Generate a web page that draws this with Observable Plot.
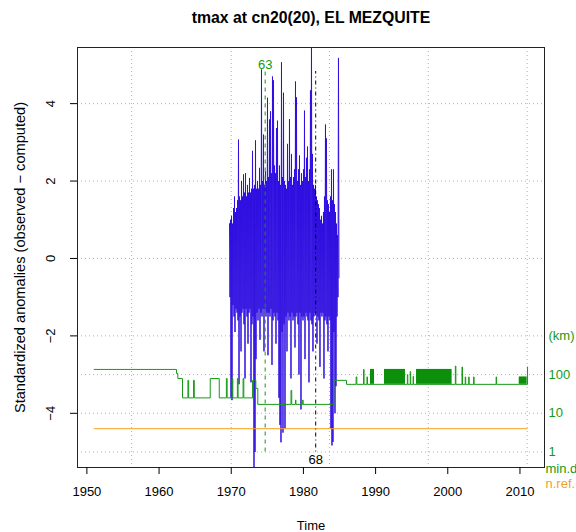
<!DOCTYPE html>
<html><head><meta charset="utf-8">
<script src="https://cdn.jsdelivr.net/npm/d3@7"></script>
<script src="https://cdn.jsdelivr.net/npm/@observablehq/plot@0.6"></script>
<style>body{margin:0;background:#fff;font-family:"Liberation Sans",Arial,Helvetica,sans-serif}</style>
</head><body><div id="chart"></div>
<script>
// ---- data ----
const titleText = "tmax at cn20(20), EL MEZQUITE";
const xTicks = [1950, 1960, 1970, 1980, 1990, 2000, 2010];
const yTicks = [-4, -2, 0, 2, 4];
const gridYears = [1956.2, 1970, 1983.6, 1997.3, 2011];
const gridVals = [4, 2, 0, -2, -3, -4, -5];
const rightKm = [1, 10, 100, 1000];
const rightLabels = ["1", "10", "100", "(km)"];

// standardized anomalies (daily), read as max/min per time slice
const anomStart = 1969.76, anomStep = 0.1385;
const anomHigh = [
  0.9,1.0,1.1,0.9,1.3,1.6,1.2,1.3,1.5,3.07,
  1.6,1.5,2.0,1.6,2.17,1.7,2.2,1.6,1.9,1.7,
  2.08,1.7,1.8,2.78,1.8,1.9,3.05,1.8,2.0,1.8,
  2.34,1.9,4.88,2.0,3.2,1.9,2.25,2.0,4.15,2.1,
  3.59,3.8,2.2,4.7,4.6,2.4,2.2,3.37,3.56,2.0,
  2.4,1.9,5.07,2.1,4.28,2.0,1.9,1.8,2.96,2.0,
  3.6,2.1,2.7,1.9,2.1,2.3,4.57,4.16,2.0,2.3,
  2.66,1.9,2.2,2.0,2.3,3.82,2.1,2.6,2.89,2.0,
  2.3,4.34,5.6,2.7,1.9,1.8,1.9,1.6,1.5,1.4,
  1.3,1.0,1.1,0.9,1.2,1.6,3.46,3.1,1.5,1.4,
  1.2,1.6,2.3,1.5,2.3,1.4,1.2,0.9,0.6,5.18];
const anomLow = [
  -1.0,-3.6,-3.66,-1.2,-1.5,-1.9,-1.3,-1.4,-1.6,-3.25,
  -1.5,-2.4,-1.4,-1.3,-1.7,-3.1,-1.3,-1.5,-2.2,-1.4,
  -1.3,-3.2,-1.7,-1.5,-5.45,-5.0,-2.6,-1.4,-1.6,-1.3,
  -2.1,-1.4,-1.5,-1.3,-2.4,-1.3,-1.5,-1.4,-2.5,-1.4,
  -1.5,-1.3,-2.75,-1.6,-1.4,-1.5,-2.2,-1.4,-1.6,-3.6,
  -4.3,-4.75,-1.9,-4.5,-1.7,-4.39,-1.5,-2.4,-1.4,-1.6,
  -1.5,-3.1,-1.4,-1.6,-1.5,-2.3,-1.5,-1.4,-1.7,-3.0,
  -1.4,-3.9,-1.5,-1.6,-1.5,-2.6,-1.4,-1.5,-1.6,-3.2,
  -1.4,-1.6,-1.7,-2.4,-1.5,-1.4,-1.4,-2.2,-1.5,-1.6,
  -2.8,-1.4,-1.5,-1.4,-3.1,-1.6,-1.5,-1.7,-2.4,-1.5,
  -1.6,-4.4,-4.83,-4.74,-1.9,-4.0,-3.3,-1.5,-1.0,-0.5];

// minimum distance to nearest reference (km), step series
const minDYear = [1951, 1962.42, 1962.6, 1963.25, 1964.0, 1964.1, 1964.78, 1964.88,
  1967.09, 1968.34, 1969.33, 1969.43, 1970.12, 1970.22, 1970.85, 1970.95, 1971.64, 1971.74,
  1972.95, 1973.41, 1973.68, 1978.28, 1978.38, 1978.9, 1978.96, 1979.9, 1979.96,
  1984.21, 1985.97, 1987.3, 1987.4, 1988.33, 1988.4, 1988.8, 1988.88,
  1994.4, 1994.46, 1994.8, 1994.86, 1995.2, 1995.26,
  2001.05, 2001.12, 2001.97, 2002.04, 2002.42, 2002.48, 2002.9, 2002.96,
  2003.58, 2003.64, 2006.7, 2006.76, 2009.9, 2011.05, 2011.12];
const minDKm = [136, 107, 79, 25, 71, 25, 71, 25,
  79, 25, 79, 25, 79, 25, 79, 25, 79, 25,
  71, 44, 17, 39, 17, 22, 17, 22, 17,
  71, 56, 87, 56, 136, 56, 87, 56,
  100, 56, 120, 56, 90, 56,
  166, 56, 157, 56, 87, 56, 87, 56,
  87, 56, 87, 56, 56, 157, 157];
// periods where min.d toggles daily (drawn filled): start, end, top km
const minDBlockStart = [1989.29, 1991.23, 1995.67, 2009.9];
const minDBlockEnd = [1989.85, 1994.14, 2000.6, 2011.0];
const minDBlockTop = [136, 136, 136, 87];
const minDBlockBase = 56;

// number of references
const nRefYear = [1951, 2011];
const nRefVal = [4, 4];

// detected breaks
const breakYear = [1974.7, 1981.7];
const breakStat = ["63", "68"];
const breakTop = 4.83, breakBottom = -5.0;

// ---- build ----
const lg = d => Math.log10(d) - 5;
const anom = [];
anomHigh.forEach((h, i) => {
  anom.push({t: anomStart + i * anomStep, v: h});
  anom.push({t: anomStart + (i + 0.5) * anomStep, v: anomLow[i]});
});
const minD = minDYear.map((t, i) => ({t, v: lg(minDKm[i])}));
const blocks = minDBlockStart.map((s, i) => ({x1: s, x2: minDBlockEnd[i], y1: lg(minDBlockBase), y2: lg(minDBlockTop[i])}));
const nref = nRefYear.map((t, i) => ({t, v: lg(nRefVal[i])}));
const fmt = d => (d < 0 ? "\u2212" + Math.abs(d) : String(d));

const GREEN = "#169a16", ORANGE = "#f4a11c", BLUE = "#3010e0", GRID = "#b0b0b0";
const font = "Liberation Sans, Arial, Helvetica, sans-serif";
const FS = 13;

const chart = Plot.plot({
  width: 576, height: 532,
  marginLeft: 77, marginRight: 32, marginTop: 47, marginBottom: 65,
  style: {fontFamily: font, fontSize: FS + "px", background: "#fff", color: "#000", overflow: "visible"},
  x: {domain: [1948.7, 2013.4]},
  y: {domain: [-5.4, 5.45]},
  marks: [
    Plot.ruleX(gridYears, {x: d => d, stroke: GRID, strokeDasharray: "1,3"}),
    Plot.ruleY(gridVals, {y: d => d, stroke: GRID, strokeDasharray: "1,3"}),
    Plot.line(anom, {x: "t", y: "v", stroke: BLUE, strokeWidth: 1, clip: true}),
    Plot.rect(blocks, {x1: "x1", x2: "x2", y1: "y1", y2: "y2", fill: "#0c900c"}),
    Plot.line(minD, {x: "t", y: "v", stroke: GREEN, strokeWidth: 1, curve: "step-after"}),
    Plot.line(nref, {x: "t", y: "v", stroke: ORANGE, strokeWidth: 1}),
    Plot.ruleX([breakYear[0]], {x: d => d, y1: breakBottom, y2: breakTop, stroke: GREEN, strokeDasharray: "4,4"}),
    Plot.ruleX([breakYear[1]], {x: d => d, y1: breakBottom, y2: breakTop, stroke: "#000", strokeDasharray: "1,3,4,3"}),
    Plot.text([0], {x: () => breakYear[0], y: () => breakTop, text: () => breakStat[0], fill: GREEN, dy: -7, fontSize: FS}),
    Plot.text([0], {x: () => breakYear[1], y: () => breakBottom, text: () => breakStat[1], fill: "#000", dy: 8, fontSize: FS}),
    Plot.frame({stroke: "#222"}),
    Plot.axisX({ticks: xTicks, tickSize: 7, tickPadding: 12, tickFormat: d => String(d), fontSize: FS, label: null}),
    Plot.axisY({ticks: yTicks, tickSize: 7, tickFormat: () => "", label: null}),
    Plot.text(yTicks, {y: d => d, text: fmt, frameAnchor: "left", dx: -27, rotate: -90, textAnchor: "middle", lineAnchor: "middle", fontSize: FS}),
    Plot.text(rightKm, {y: d => lg(d), text: (d, i) => rightLabels[i], frameAnchor: "right", dx: 4, textAnchor: "start", fill: GREEN, fontSize: FS}),
    Plot.text(["min.d"], {text: d => d, frameAnchor: "bottom-right", dx: 1, dy: 1, textAnchor: "start", lineAnchor: "middle", fill: GREEN, fontSize: FS}),
    Plot.text(["n.ref."], {text: d => d, frameAnchor: "bottom-right", dx: 1, dy: 16, textAnchor: "start", lineAnchor: "middle", fill: ORANGE, fontSize: FS}),
    Plot.text(["Time"], {text: d => d, frameAnchor: "bottom", dy: 58, textAnchor: "middle", lineAnchor: "middle", fontSize: FS}),
    Plot.text(["Standardized anomalies (observed \u2212 computed)"], {text: d => d, frameAnchor: "left", dx: -57, rotate: -90, textAnchor: "middle", lineAnchor: "middle", fontSize: 14.6}),
    Plot.text([titleText], {text: d => d, frameAnchor: "top", dy: -30, textAnchor: "middle", lineAnchor: "middle", fontSize: 15.8, fontWeight: "bold"})
  ]
});
document.getElementById("chart").appendChild(chart);
</script>
</body></html>
